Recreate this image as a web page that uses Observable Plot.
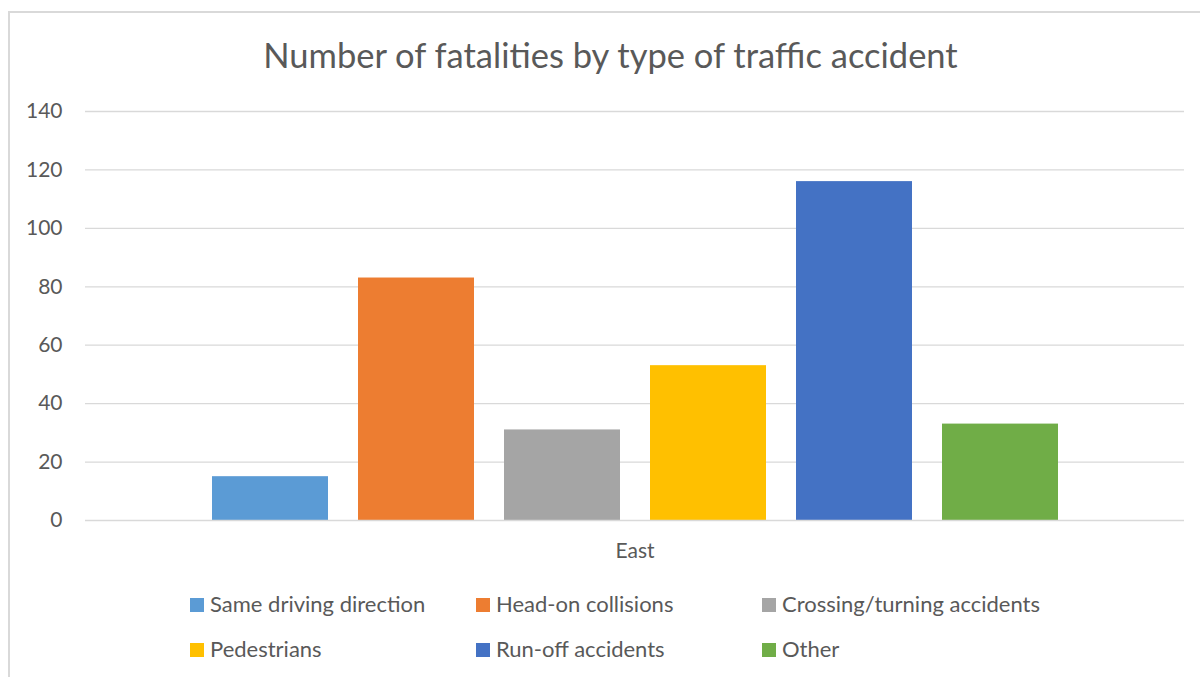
<!DOCTYPE html>
<html>
<head>
<meta charset="utf-8">
<script src="https://cdn.jsdelivr.net/npm/d3@7"></script>
<script src="https://cdn.jsdelivr.net/npm/@observablehq/plot@0.6"></script>
<style>
  html, body { margin: 0; padding: 0; background: #fff; }
  #wrap { position: relative; width: 1200px; height: 677px; overflow: hidden; font-family: Lato, "Open Sans", sans-serif; color: #595959; }
  #border { position: absolute; left: 8px; top: 11px; width: 1300px; height: 800px; border-left: 2px solid #d9d9d9; border-top: 2px solid #d9d9d9; box-sizing: border-box; }
  #title { position: absolute; left: 0; width: 1221px; top: 35px; text-align: center; font-size: 34.5px; line-height: 40px; white-space: nowrap; }
  #chart { position: absolute; left: 0; top: 90px; }
  .lg { position: absolute; font-size: 22px; line-height: 24px; white-space: nowrap; }
  .sw { position: absolute; width: 14px; height: 14px; }
</style>
</head>
<body>
<div id="wrap">
  <div id="border"></div>
  <div id="title">Number of fatalities by type of traffic accident</div>
  <div id="chart"></div>
  <div id="legend"></div>
</div>
<script>
const regions = ["East"];
const types = ["Same driving direction", "Head-on collisions", "Crossing/turning accidents", "Pedestrians", "Run-off accidents", "Other"];
const values = [15, 83, 31, 53, 116, 33];
const colors = ["#5B9BD5", "#ED7D31", "#A5A5A5", "#FFC000", "#4472C4", "#70AD47"];
const yTicks = [0, 20, 40, 60, 80, 100, 120, 140];

const data = types.map((t, i) => ({region: regions[0], type: t, value: values[i]}));

const chart = Plot.plot({
  width: 1200,
  height: 480,
  marginTop: 21,
  marginBottom: 50,
  marginLeft: 85,
  marginRight: 16,
  style: {fontFamily: "Lato, 'Open Sans', sans-serif", color: "#595959", background: "transparent"},
  fx: {domain: regions, padding: 0, label: null, axis: null},
  x: {domain: types, axis: null, paddingInner: 0.2055, paddingOuter: 0.866},
  y: {domain: [0, 140], axis: null},
  color: {domain: types, range: colors},
  marks: [
    Plot.ruleY(yTicks.filter(d => d > 0), {stroke: "#d9d9d9", strokeWidth: 1.3, strokeOpacity: 1}),
    Plot.barY(data, {fx: "region", x: "type", y: "value", fill: "type"}),
    Plot.ruleY([0], {stroke: "#d9d9d9", strokeWidth: 1.3, strokeOpacity: 1}),
    Plot.axisY({ticks: yTicks, tickSize: 0, tickPadding: 23, fontSize: 21, label: null, fill: "#595959"}),
    Plot.axisFx({anchor: "bottom", tickSize: 0, tickPadding: 23, fontSize: 21, label: null, fill: "#595959"})
  ]
});
document.getElementById("chart").appendChild(chart);

// Legend (3 columns x 2 rows)
const legend = document.getElementById("legend");
const colX = [190, 476, 762];
const rowY = [598, 643];
types.forEach((t, i) => {
  const c = i % 3, r = Math.floor(i / 3);
  const sw = document.createElement("div");
  sw.className = "sw";
  sw.style.left = colX[c] + "px";
  sw.style.top = rowY[r] + "px";
  sw.style.background = colors[i];
  legend.appendChild(sw);
  const lb = document.createElement("div");
  lb.className = "lg";
  lb.style.left = (colX[c] + 20) + "px";
  lb.style.top = (rowY[r] - 6) + "px";
  lb.textContent = t;
  legend.appendChild(lb);
});
</script>
</body>
</html>
